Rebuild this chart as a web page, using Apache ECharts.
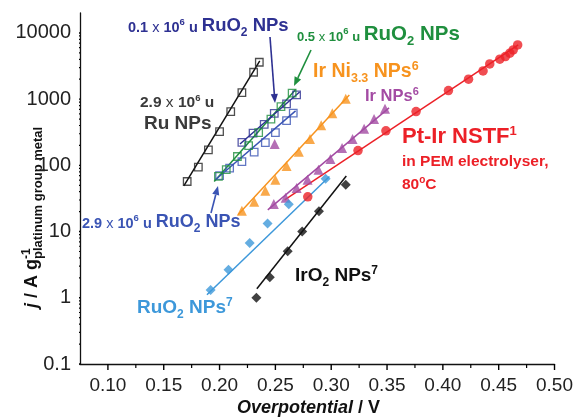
<!DOCTYPE html>
<html><head><meta charset="utf-8">
<script src="https://cdn.jsdelivr.net/npm/echarts@6/dist/echarts.min.js"></script>
<style>html,body{margin:0;padding:0;background:#fff}#c{width:576px;height:419px}</style>
</head><body><div id="c"></div>
<script>
// ---------------- data (overpotential V, j A/g) ----------------
const ruNPs      = [[0.171,57],[0.181,94],[0.190,171],[0.200,324],[0.210,649],[0.220,1256],[0.2305,2550],[0.2356,3610]];
const ruO2_05    = [[0.199,68],[0.206,86],[0.216,136],[0.226,199],[0.235,313],[0.246,498],[0.255,772],[0.265,1230]];
const ruO2_01    = [[0.220,222],[0.230,306],[0.240,416],[0.249,610],[0.260,848],[0.269,1159]];
const ruO2_29    = [[0.200,70],[0.209,91],[0.220,114],[0.231,158],[0.241,221],[0.250,313],[0.260,475],[0.266,614]];
const irNi       = [[0.220,20.6],[0.231,28.1],[0.241,41.2],[0.250,60.4],[0.260,98],[0.271,160],[0.281,251],[0.291,402],[0.301,610],[0.313,1010]];
const irNPs      = [[0.2486,26.2],[0.2592,32.3],[0.269,45.7],[0.2788,60.4],[0.2886,85.5],[0.2993,125],[0.3097,183],[0.3191,251],[0.3295,356],[0.3384,503],[0.3482,713],[0.2494,211]];
const ptIr       = [[0.279,33.5],[0.324,167],[0.349,332],[0.376,649],[0.405,1346],[0.423,2000],[0.436,2670],[0.442,3400],[0.451,4010],[0.456,4390],[0.460,4940],[0.463,5540],[0.467,6590]];
const ruO2NPs7   = [[0.192,1.31],[0.208,2.65],[0.227,6.7],[0.243,13.2],[0.262,25.8],[0.295,62.5]];
const irO2NPs7   = [[0.233,1.0],[0.245,2.04],[0.261,5.03],[0.274,10],[0.289,20.2],[0.313,50.8]];
// Tafel fit lines (end points)
const ruFit      = [[0.168,49],[0.236,3780]];
const ruO2_05Fit = [[0.1952,57],[0.2681,1396]];
const ruO2_01Fit = [[0.2183,210],[0.2717,1282]];
const ruO2_29Fit = [[0.196,60],[0.2681,665]];
const irNiFit    = [[0.2165,17.9],[0.3162,1159]];
const irNPsFit   = [[0.2432,21.3],[0.3518,738]];
const ptIrFit    = [[0.2583,30],[0.4675,6600]];
const ruO2_7Fit  = [[0.1887,1.11],[0.2984,67.8]];
const irO2_7Fit  = [[0.2334,1.37],[0.3135,69]];
// axes
const xMin = 0.075, xMax = 0.5;
const xMajorTicks = [0.10,0.15,0.20,0.25,0.30,0.35,0.40,0.45,0.50];
const xMinorTicks = [0.125,0.175,0.225,0.275,0.325,0.375,0.425,0.475];
const yMin = 0.1, yMax = 20000;
const yMajorTicks = [0.1,1,10,100,1000,10000];
const yMinorTicks = [];
[0.1,1,10,100,1000].forEach(d=>{[2,3,4,5,6,7,8,9].forEach(m=>yMinorTicks.push(+(d*m).toPrecision(3)));});

// ---------------- styles ----------------
const FONT = '"Liberation Sans", Arial, Helvetica, sans-serif';
const C = {navy:'#2e3192', green:'#1f8f3e', blue:'#3a54b4', lblue:'#3d98da', orange:'#f7931e', purple:'#a34ba3', red:'#ec2027', black:'#111111', gray:'#3a3a3a'};
const GRID = {left:80, right:19, top:13, bottom:55};
const PXW = 576-GRID.left-GRID.right, PXH = 419-GRID.top-GRID.bottom;

const mctx = document.createElement('canvas').getContext('2d');
function fontStr(p){ return (p.i?'italic ':'') + (p.w||'bold') + ' ' + p.s + 'px ' + FONT; }
function row(x, base, color, parts){
  const els=[]; let cx=x;
  parts.forEach(p=>{
    const f=fontStr(p); mctx.font=f;
    const w=mctx.measureText(p.t).width;
    els.push({type:'text', x:cx, y:base+(p.dy||0)-0.31*p.s, silent:true,
      style:{text:p.t, font:f, fill:p.c||color, align:'left', textAlign:'left', verticalAlign:'middle', textVerticalAlign:'middle'}});
    if(!p.noAdv) cx += w;
  });
  return els;
}
function seg(x1,y1,x2,y2,color,w){ return {type:'line', silent:true, z:100, shape:{x1,y1,x2,y2}, style:{stroke:color, lineWidth:w}}; }
function arrow(x1,y1,x2,y2,color){
  const a=Math.atan2(y2-y1,x2-x1), L=9, W=3.6;
  const bx=x2-L*Math.cos(a), by=y2-L*Math.sin(a);
  const nx=-Math.sin(a)*W, ny=Math.cos(a)*W;
  return [seg(x1,y1,bx,by,color,1.6),
          {type:'polygon', silent:true, shape:{points:[[x2,y2],[bx+nx,by+ny],[bx-nx,by-ny]]}, style:{fill:color}}];
}
function fit(data,color){ return {type:'line', data, symbol:'none', showSymbol:false, silent:true, z:2, lineStyle:{color, width:1.5}}; }
function pts(data,symbol,size,color,hollow){
  return {type:'scatter', data, symbol, symbolSize:size, silent:true, z:3,
    itemStyle: hollow?{color:'rgba(0,0,0,0)', borderColor:color, borderWidth:1.3}:{color}};
}
// tick marks as tiny unclipped line series, positioned by the axes' own scales
function tickSeries(a, b, w){
  return {type:'line', data:[a,b], symbol:'none', showSymbol:false, clip:false, silent:true, z:6,
    lineStyle:{color:'#000', width:w, cap:'butt'}};
}
const xPerPx = (xMax-xMin)/PXW;
const yFacPerPx = Math.pow(10, (Math.log10(yMax)-Math.log10(yMin))/PXH);
const tickSer = [];
xMajorTicks.forEach(v=>tickSer.push(tickSeries([v,yMin],[v,yMin/Math.pow(yFacPerPx,6)],1.4)));
xMinorTicks.forEach(v=>tickSer.push(tickSeries([v,yMin],[v,yMin/Math.pow(yFacPerPx,4)],1.2)));
yMajorTicks.forEach(v=>tickSer.push(tickSeries([xMin,v],[xMin-7*xPerPx,v],1.4)));
yMinorTicks.forEach(v=>tickSer.push(tickSeries([xMin,v],[xMin-4*xPerPx,v],1.2)));

const sub = 12, sup = 9.5;
let g = [];
g = g.concat(row(128, 32, C.navy, [{t:'0.1 ',s:14.5},{t:'x',s:14.5,w:'normal'},{t:' 10',s:14.5},{t:'6',s:sup,dy:-7},{t:' u ',s:14.5},{t:'RuO',s:18.5},{t:'2',s:sub,dy:4},{t:' NPs',s:18.5}]));
g = g.concat(row(297, 41, C.green, [{t:'0.5 ',s:13},{t:'x',s:13,w:'normal'},{t:' 10',s:13},{t:'6',s:sup,dy:-7},{t:' u ',s:13},{t:'RuO',s:20.5},{t:'2',s:13,dy:4},{t:' NPs',s:20.5}]));
g = g.concat(row(140, 108, C.gray, [{t:'2.9 ',s:15.5},{t:'x',s:15.5,w:'normal'},{t:' 10',s:15.5},{t:'6',s:sup,dy:-7},{t:' u',s:15.5}]));
g = g.concat(row(144, 130, C.gray, [{t:'Ru NPs',s:19}]));
g = g.concat(row(313, 78, C.orange, [{t:'Ir Ni',s:19.5},{t:'3.3',s:12.5,dy:4},{t:' NPs',s:19.5},{t:'6',s:12.5,dy:-8}]));
g = g.concat(row(365, 102, C.purple, [{t:'Ir NPs',s:16.5},{t:'6',s:11,dy:-7}]));
g = g.concat(row(402, 144, C.red, [{t:'Pt-Ir NSTF',s:22},{t:'1',s:13,dy:-9}]));
g = g.concat(row(402, 167, C.red, [{t:'in PEM electrolyser,',s:15.5}]));
g = g.concat(row(402, 190, C.red, [{t:'80',s:15.5},{t:'o',s:10,dy:-7},{t:'C',s:15.5}]));
g = g.concat(row(82, 228, C.blue, [{t:'2.9 ',s:14.5},{t:'x',s:14.5,w:'normal'},{t:' 10',s:14.5},{t:'6',s:sup,dy:-7},{t:' u ',s:14.5},{t:'RuO',s:18},{t:'2',s:sub,dy:4},{t:' NPs',s:18}]));
g = g.concat(row(137, 314, C.lblue, [{t:'RuO',s:19},{t:'2',s:12,dy:4},{t:' NPs',s:19},{t:'7',s:12,dy:-8}]));
g = g.concat(row(295, 282, C.black, [{t:'IrO',s:19},{t:'2',s:12,dy:4},{t:' NPs',s:19},{t:'7',s:12,dy:-8}]));
g = g.concat(arrow(270,37,275,103,C.navy));
g = g.concat(arrow(311,50,294,86,C.green));
g = g.concat(arrow(211,213,218,186,C.blue));
g = g.concat(row(237, 414, C.black, [{t:'Overpotential',s:18,i:true},{t:' / V',s:18}]));
g.push({type:'group', x:38, y:308, rotation:Math.PI/2,
  children: row(0, 0, C.black, [{t:'j',s:18,i:true},{t:' / A g',s:18},{t:'-1',s:12,dy:-8,noAdv:true},{t:'platinum group metal',s:13,dy:4}])});

const axLine = {lineStyle:{color:'#111', width:1.3}};
const option = {
  animation:false,
  backgroundColor:'#ffffff',
  grid:Object.assign({containLabel:false}, GRID),
  xAxis:{type:'value', min:xMin, max:xMax, axisLine:axLine, splitLine:{show:false}, axisTick:{show:false},
     axisLabel:{customValues:xMajorTicks, fontFamily:FONT, fontSize:19, color:'#222', margin:12, formatter:v=>v.toFixed(2)}},
  yAxis:{type:'log', logBase:10, min:yMin, max:yMax, axisLine:axLine, splitLine:{show:false}, axisTick:{show:false},
     axisLabel:{customValues:yMajorTicks, fontFamily:FONT, fontSize:20, color:'#222', margin:9,
       formatter:v=>{ const r=Math.round(Math.log10(v)); return r<0 ? v.toFixed(-r) : String(Math.round(v)); }}},
  series:[
    fit(ruFit,C.black), fit(ruO2_05Fit,C.green), fit(ruO2_01Fit,C.navy), fit(ruO2_29Fit,C.blue),
    fit(irNiFit,C.orange), fit(irNPsFit,C.purple), fit(ptIrFit,C.red), fit(ruO2_7Fit,C.lblue), fit(irO2_7Fit,C.black),
    pts(ruNPs,'rect',7.5,'#222',true),
    pts(ruO2_01,'rect',7.5,C.navy,true),
    pts(ruO2_29,'rect',7.5,C.blue,true),
    pts(ruO2_05,'rect',7.5,C.green,true),
    pts(irNi,'triangle',10,C.orange,false),
    pts(irNPs,'triangle',10,C.purple,false),
    pts(ptIr,'circle',9.5,C.red,false),
    pts(ruO2NPs7,'diamond',10,C.lblue,false),
    pts(irO2NPs7,'diamond',10,C.black,false)
  ].concat(tickSer),
  graphic:{elements:g}
};
const chart = echarts.init(document.getElementById('c'));
chart.setOption(option);
</script></body></html>
